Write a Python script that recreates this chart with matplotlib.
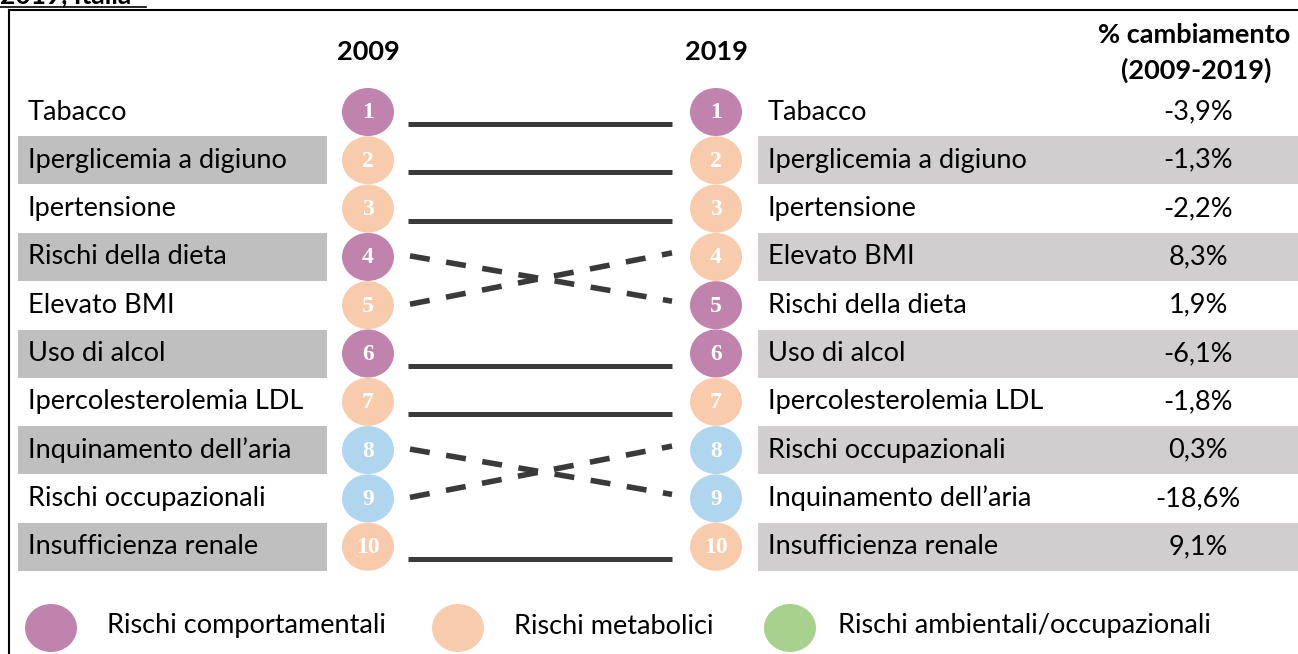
import matplotlib
matplotlib.use("Agg")
import matplotlib.pyplot as plt
from matplotlib.patches import Ellipse, Rectangle

# ranking data
risks_2009 = ["Tabacco", "Iperglicemia a digiuno", "Ipertensione", "Rischi della dieta",
              "Elevato BMI", "Uso di alcol", "Ipercolesterolemia LDL",
              "Inquinamento dell\u2019aria", "Rischi occupazionali", "Insufficienza renale"]
risks_2019 = ["Tabacco", "Iperglicemia a digiuno", "Ipertensione", "Elevato BMI",
              "Rischi della dieta", "Uso di alcol", "Ipercolesterolemia LDL",
              "Rischi occupazionali", "Inquinamento dell\u2019aria", "Insufficienza renale"]
change_pct = ["-3,9%", "-1,3%", "-2,2%", "8,3%", "1,9%", "-6,1%", "-1,8%", "0,3%", "-18,6%", "9,1%"]
group_of = {"Tabacco": "comp", "Rischi della dieta": "comp", "Uso di alcol": "comp",
            "Iperglicemia a digiuno": "meta", "Ipertensione": "meta", "Elevato BMI": "meta",
            "Ipercolesterolemia LDL": "meta", "Insufficienza renale": "meta",
            "Inquinamento dell\u2019aria": "amb", "Rischi occupazionali": "amb"}
circle_col = {"comp": "#bf83ad", "meta": "#f8cbad", "amb": "#afd5ef"}
legend_labels = ["Rischi comportamentali", "Rischi metabolici", "Rischi ambientali/occupazionali"]
legend_cols = ["#bf83ad", "#f8cbad", "#a9d18e"]

W, H = 1298, 654
fig = plt.figure(figsize=(W / 100, H / 100), dpi=100)
ax = fig.add_axes([0, 0, 1, 1])
ax.set_xlim(0, W)
ax.set_ylim(H, 0)
ax.axis("off")

plt.rcParams['font.family'] = ['Lato', 'DejaVu Sans']
fs = 19.5

y0, dy = 112, 48.3
xl, xr = 368, 716
n = len(risks_2009)
rows = [y0 + i * dy for i in range(n)]
line_col = "#3a3a3a"

# frame and title (cut by the top edge, as in the source)
ax.plot([9, W], [10, 10], color="black", lw=1.5)
ax.plot([9, 9], [10, H], color="black", lw=1.5)
ax.text(0, 7, "2019, Italia", fontsize=19, fontweight="bold", va="bottom", ha="left")
ax.plot([0, 146], [7, 7], color="black", lw=1.2)

# headers
ax.text(xl, 52, "2009", fontsize=fs, fontweight="bold", ha="center", va="center")
ax.text(xr, 52, "2019", fontsize=fs, fontweight="bold", ha="center", va="center")
ax.text(1194, 35, "% cambiamento", fontsize=fs, fontweight="bold", ha="center", va="center")
ax.text(1196, 70, "(2009-2019)", fontsize=fs, fontweight="bold", ha="center", va="center")

for i, y in enumerate(rows):
    if i % 2 == 1:
        ax.add_patch(Rectangle((18, y - 24), 309, 48, color="#bfbfbf", lw=0))
        ax.add_patch(Rectangle((758, y - 24), W - 758, 48, color="#d0cece", lw=0))
    ax.text(28, y, risks_2009[i], fontsize=fs, ha="left", va="center")
    ax.text(768, y, risks_2019[i], fontsize=fs, ha="left", va="center")
    ax.text(1198, y, change_pct[i], fontsize=fs, ha="center", va="center")
    for x, name in ((xl, risks_2009[i]), (xr, risks_2019[i])):
        ax.add_patch(Ellipse((x, y), 52, 48, color=circle_col[group_of[name]], lw=0))
        ax.text(x, y + 1, str(i + 1), fontsize=17, fontweight="bold", color="white",
                family="Liberation Serif", ha="center", va="center")

# connecting lines
for i, name in enumerate(risks_2009):
    j = risks_2019.index(name)
    if i == j:
        ax.plot([408, 672], [rows[i] + 12, rows[j] + 12], color=line_col, lw=3.6,
                solid_capstyle="butt")
    else:
        ax.plot([410, 672], [rows[i] - 1, rows[j] - 4], color=line_col, lw=4,
                linestyle=(0, (3.6, 3.0)), dash_capstyle="butt")

# legend
for k, (lab, col) in enumerate(zip(legend_labels, legend_cols)):
    lx = [51, 458, 790][k]
    ax.add_patch(Ellipse((lx, 628), 52, 48, color=col, lw=0))
    ax.text([107, 514, 838][k], 626, lab, fontsize=fs, ha="left", va="center")

fig.savefig("out.png", dpi=100)
